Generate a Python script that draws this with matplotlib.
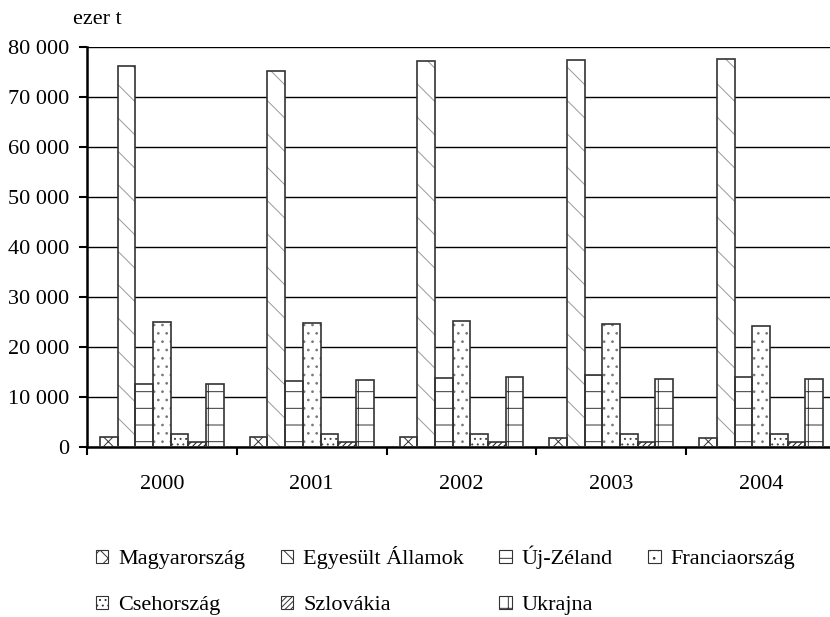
import matplotlib.pyplot as plt
import matplotlib.patches as mpatches
import numpy as np

plt.rcParams['font.family'] = ['Liberation Serif', 'DejaVu Serif']
plt.rcParams['hatch.linewidth'] = 0.7

years = ['2000', '2001', '2002', '2003', '2004']
countries = ['Magyarország', 'Egyesült Államok', 'Új-Zéland', 'Franciaország',
             'Csehország', 'Szlovákia', 'Ukrajna']

# milk production, thousand tonnes
magyarorszag = [2040, 2030, 1980, 1950, 1880]
egyesult_allamok = [76150, 75100, 77150, 77300, 77500]
uj_zeland = [12650, 13250, 13900, 14450, 13950]
franciaorszag = [24950, 24900, 25200, 24600, 24300]
csehorszag = [2730, 2650, 2720, 2700, 2620]
szlovakia = [1080, 1050, 1100, 1100, 1050]
ukrajna = [12600, 13400, 14100, 13600, 13700]

series = [magyarorszag, egyesult_allamok, uj_zeland, franciaorszag,
          csehorszag, szlovakia, ukrajna]
hatches = ['xx', '\\', '-', '..', '...', '//////', '+']
hatch_colors = ['#333333', '#9a9a9a', '#333333', '#777777', '#444444', '#111111', '#333333']

fig = plt.figure(figsize=(8.3, 6.17), dpi=100)
ax = fig.add_axes([0.1048, 0.275, 0.9024, 0.6496])

x = np.arange(len(years))
w = 0.118
for i, vals in enumerate(series):
    pos = x + (i - 3) * w
    # pattern first, then the outline on top
    ax.bar(pos, vals, w, color='white', edgecolor=hatch_colors[i], hatch=hatches[i],
           linewidth=0, zorder=2)
    ax.bar(pos, vals, w, fill=False, edgecolor='#333333', linewidth=1.2, zorder=3)

ax.set_xlim(-0.5, 4.5)
ax.set_ylim(0, 80000)

yt = np.arange(0, 80001, 10000)
ax.set_yticks(yt)
ax.set_yticklabels(['0' if v == 0 else f'{v // 1000} 000' for v in yt], fontsize=16)
ax.yaxis.grid(True, color='black', linewidth=1)
ax.set_axisbelow(True)

ax.set_xticks(x)
ax.set_xticklabels(years, fontsize=16)
ax.set_xticks(np.arange(-0.5, 5, 1), minor=True)
ax.tick_params(axis='x', which='major', length=0, pad=20)
ax.tick_params(axis='x', which='minor', length=6, width=1.5, direction='out')
ax.tick_params(axis='y', length=6, width=1.5, direction='out', pad=7)

for side in ['top', 'right']:
    ax.spines[side].set_visible(False)
for side in ['left', 'bottom']:
    ax.spines[side].set_linewidth(1.8)

fig.text(0.117, 0.969, 'ezer t', fontsize=16, ha='center', va='center')

# legend filled row by row
order = [0, 4, 1, 5, 2, 6, 3]
handles = [mpatches.Patch(facecolor='white', edgecolor='#333333', hatch=hatches[i],
                          linewidth=0.8) for i in order]
labels = [countries[i] for i in order]
fig.legend(handles, labels, loc='center', bbox_to_anchor=(0.537, 0.059), ncol=4,
           frameon=False, fontsize=16, handlelength=0.55, handleheight=0.55,
           handletextpad=0.45, columnspacing=1.6, labelspacing=1.2)

fig.savefig('out.png', dpi=100)
